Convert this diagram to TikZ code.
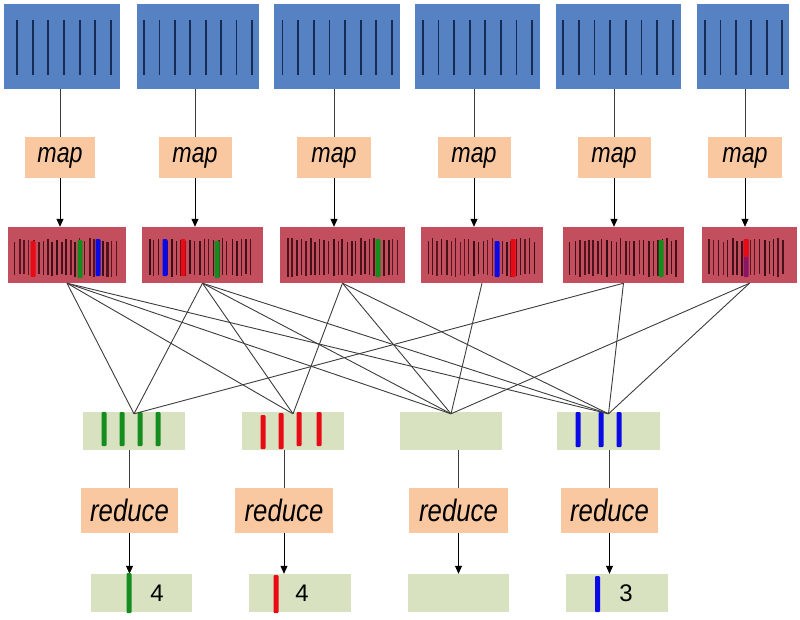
\documentclass[tikz,border=0pt]{standalone}
\usepackage{fontspec}
\setmainfont{Liberation Sans}
\newfontfamily\lblfont[FakeStretch=0.83]{Liberation Sans}
\usetikzlibrary{arrows.meta}
\definecolor{bluebox}{RGB}{86,130,196}
\definecolor{navyline}{RGB}{22,42,86}
\definecolor{peach}{RGB}{250,200,160}
\definecolor{redbox}{RGB}{194,78,94}
\definecolor{barA}{RGB}{96,22,34}
\definecolor{barB}{RGB}{52,14,20}
\definecolor{greenbox}{RGB}{216,226,192}
\definecolor{kgreen}{RGB}{20,140,30}
\definecolor{kred}{RGB}{232,10,20}
\definecolor{kblue}{RGB}{10,10,230}
\definecolor{kpurple}{RGB}{140,20,100}
\definecolor{wirec}{RGB}{60,60,60}
\newcommand\mybars[3]{%
  \pgfmathsetseed{#3}%
  \foreach \k in {0,...,#2}{%
    \pgfmathsetmacro\xx{#1+\k*4.6+1.2*rnd}%
    \pgfmathsetmacro\ww{0.7+1.5*rnd}%
    \pgfmathsetmacro\tt{238+4*rnd}%
    \pgfmathsetmacro\bb{277-3*rnd}%
    \pgfmathtruncatemacro\pc{100*rnd}%
    \fill[barA!\pc!barB] (\xx,\tt) rectangle ({\xx+\ww},\bb);
  }}
\begin{document}
\begin{tikzpicture}[x=1pt,y=-1pt,
  inbox/.style={fill=bluebox, inner sep=0pt, minimum width=#1, minimum height=85pt},
  mapbox/.style={fill=peach, inner sep=0pt, minimum width=#1, minimum height=41pt,
     font=\lblfont\itshape\fontsize{28}{28}\selectfont},
  redbx/.style={fill=redbox, inner sep=0pt, minimum width=#1, minimum height=56pt},
  grbox/.style={fill=greenbox, inner sep=0pt, minimum width=#1, minimum height=38pt},
  redbox/.style={fill=peach, inner sep=0pt, minimum width=#1, minimum height=45pt,
     font=\lblfont\itshape\fontsize{31}{31}\selectfont},
  numtxt/.style={inner sep=0pt, font=\fontsize{24}{24}\selectfont},
  vline/.style={draw=wirec, line width=1pt},
  wire/.style={draw=wirec, line width=0.9pt},
  arr/.style={draw=black, line width=0.8pt, -{Triangle[length=8pt,width=7pt]}},
  navy/.style={draw=navyline, line width=1.8pt},
  kbar/.style={rounded corners=1pt}
]
\useasboundingbox (0,0) rectangle (800,619);

% input blocks
\node[inbox=116] (B1) at (62,46.5) {};
\node[inbox=122] (B2) at (198,46.5) {};
\node[inbox=126] (B3) at (337,46.5) {};
\node[inbox=125] (B4) at (477.5,46.5) {};
\node[inbox=125] (B5) at (618.5,46.5) {};
\node[inbox=92]  (B6) at (743,46.5) {};
\foreach \i in {0,...,6} \draw[navy] ({17+\i*15.67},20) -- ++(0,55);
\foreach \i in {0,...,7} \draw[navy] ({144+\i*15.43},20) -- ++(0,55);
\foreach \i in {0,...,7} \draw[navy] ({282.5+\i*15.64},20) -- ++(0,55);
\foreach \i in {0,...,7} \draw[navy] ({423+\i*15.57},20) -- ++(0,55);
\foreach \i in {0,...,7} \draw[navy] ({563+\i*15.71},20) -- ++(0,55);
\foreach \i in {0,...,5} \draw[navy] ({705+\i*15.4},20) -- ++(0,55);

% map boxes
\node[mapbox=70] (M1) at (60,157.5) {map};
\node[mapbox=73] (M2) at (195,157.5) {map};
\node[mapbox=74] (M3) at (334,157.5) {map};
\node[mapbox=73] (M4) at (474,157.5) {map};
\node[mapbox=73] (M5) at (614,157.5) {map};
\node[mapbox=74] (M6) at (745,157.5) {map};
\foreach \m/\b in {M1/B1,M2/B2,M3/B3,M4/B4,M5/B5,M6/B6}
  \draw[vline] (\m.north |- \b.south) -- (\m.north);

% intermediate blocks
\node[redbx=118] (R1) at (67,255) {};
\node[redbx=121] (R2) at (202.5,255) {};
\node[redbx=125] (R3) at (342.5,255) {};
\node[redbx=122] (R4) at (482,255) {};
\node[redbx=121] (R5) at (623.5,255) {};
\node[redbx=95]  (R6) at (749.5,255) {};
\foreach \m/\r in {M1/R1,M2/R2,M3/R3,M4/R4,M5/R5,M6/R6}
  \draw[arr] (\m.south) -- (\m.south |- \r.north);

\mybars{14}{22}{3}
\mybars{148}{22}{11}
\mybars{286}{24}{5}
\mybars{427}{23}{17}
\mybars{569}{23}{23}
\mybars{708}{16}{29}
% coloured keys in intermediate blocks
\fill[kred,kbar]   (30.5,241) rectangle ++(5,36);
\fill[kgreen,kbar] (77.5,240) rectangle ++(5,38);
\fill[kblue,kbar]  (95.5,239) rectangle ++(5,37);
\fill[kblue,kbar]  (162.5,239) rectangle ++(5,37);
\fill[kred,kbar]   (180.5,239) rectangle ++(5,37);
\fill[kgreen,kbar] (214.5,241) rectangle ++(5,37);
\fill[kgreen,kbar] (375.5,239) rectangle ++(5,38);
\fill[kblue,kbar]  (494.5,241) rectangle ++(5,36);
\fill[kred,kbar]   (510.5,239) rectangle ++(5,38);
\fill[kgreen,kbar] (658.5,240) rectangle ++(5,37);
\fill[kpurple,kbar] (743.5,239) rectangle ++(5,38);
\fill[kred,kbar]   (743.5,239) rectangle ++(5,18);

% grouped blocks
\node[grbox=102] (G1) at (134,431) {};
\node[grbox=102] (G2) at (293,431) {};
\node[grbox=102] (G3) at (451,431) {};
\node[grbox=103] (G4) at (608.5,431) {};
\foreach \x in {104,122,140,158} \fill[kgreen,kbar] (\x-2.5,412) rectangle ++(5,34);
\fill[kred,kbar] (260.5,415) rectangle ++(5,34);
\fill[kred,kbar] (278.5,413) rectangle ++(5,36);
\fill[kred,kbar] (296.5,412) rectangle ++(5,34);
\fill[kred,kbar] (316.5,412) rectangle ++(5,34);
\foreach \x in {578,601,619} \fill[kblue,kbar] (\x-2.5,412) rectangle ++(5,35);

% shuffle connectors
\foreach \s/\t in {R1/G1,R1/G2,R1/G3,R1/G4,R2/G1,R2/G2,R2/G3,R2/G4,
                   R3/G2,R3/G3,R3/G4,R4/G3,R5/G1,R5/G4,R6/G3,R6/G4}
  \draw[wire] (\s.south) -- ([yshift=-2pt]\t.north);

% reduce boxes
\node[redbox=97] (D1) at (129.5,510.5) {reduce};
\node[redbox=98] (D2) at (284,510.5) {reduce};
\node[redbox=99] (D3) at (458.5,510.5) {reduce};
\node[redbox=97] (D4) at (609.5,510.5) {reduce};
\foreach \d/\g in {D1/G1,D2/G2,D3/G3,D4/G4}
  \draw[vline] (\d.north |- \g.south) -- (\d.north);

% results
\node[grbox=101] (F1) at (141.5,593) {};
\node[grbox=102] (F2) at (300,593) {};
\node[grbox=101] (F3) at (458.5,593) {};
\node[grbox=102] (F4) at (617,593) {};
\foreach \d/\f in {D1/F1,D2/F2,D3/F3,D4/F4}
  \draw[arr] (\d.south) -- (\d.south |- \f.north);
\fill[kgreen,kbar] (126.5,573) rectangle ++(5,40);
\fill[kred,kbar]   (273.5,575) rectangle ++(5,38);
\fill[kblue,kbar]  (595,576) rectangle ++(5,36);
\node[numtxt] (n1) at (157,593) {4};
\node[numtxt] (n2) at (302,593) {4};
\node[numtxt] (n3) at (626,593) {3};
\end{tikzpicture}
\end{document}
